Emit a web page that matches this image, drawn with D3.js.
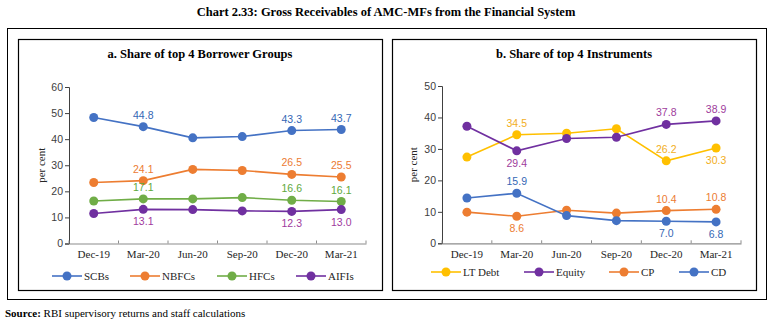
<!DOCTYPE html>
<html>
<head>
<meta charset="utf-8">
<script src="https://cdn.jsdelivr.net/npm/d3@7"></script>
<style>
  body { margin: 0; background: #fff; }
  svg { display: block; }
  .serif { font-family: "Liberation Serif", serif; }
  .sans { font-family: "Liberation Sans", sans-serif; }
</style>
</head>
<body>
<div id="chart"></div>
<script>
// Quarters on the x axis
var quarters = ["Dec-19", "Mar-20", "Jun-20", "Sep-20", "Dec-20", "Mar-21"];

// Panel a: borrower groups (per cent)
var scbs  = [48.3, 44.8, 40.5, 41.0, 43.3, 43.7];
var nbfcs = [23.4, 24.1, 28.4, 28.0, 26.5, 25.5];
var hfcs  = [16.3, 17.1, 17.1, 17.6, 16.6, 16.1];
var aifis = [11.5, 13.1, 13.0, 12.5, 12.3, 13.0];

// Panel b: instruments (per cent)
var ltDebt = [27.4, 34.5, 35.0, 36.4, 26.2, 30.3];
var equity = [37.2, 29.4, 33.3, 33.7, 37.8, 38.9];
var cp     = [9.9, 8.6, 10.5, 9.6, 10.4, 10.8];
var cd     = [14.4, 15.9, 8.8, 7.2, 7.0, 6.8];

var ticksA = [0, 10, 20, 30, 40, 50, 60];
var ticksB = [0, 10, 20, 30, 40, 50];

var svgWidth = 772;
var svgHeight = 326;

var svg = d3.select("#chart")
    .append("svg")
    .attr("width", svgWidth)
    .attr("height", svgHeight);

// Main heading
svg.append("text")
    .attr("class", "serif")
    .attr("x", 386)
    .attr("y", 16)
    .attr("text-anchor", "middle")
    .style("font-size", "12.5px")
    .style("font-weight", "bold")
    .text("Chart 2.33: Gross Receivables of AMC-MFs from the Financial System");

// Outer frame
svg.append("rect")
    .attr("x", 7.5).attr("y", 28.5)
    .attr("width", 759).attr("height", 271)
    .attr("fill", "none").attr("stroke", "#000").attr("stroke-width", 1);

function drawPanel(p) {
    var g = svg.append("g");

    g.append("rect")
        .attr("x", p.box[0] + 0.5).attr("y", p.box[1] + 0.5)
        .attr("width", p.box[2]).attr("height", p.box[3])
        .attr("fill", "none").attr("stroke", "#000").attr("stroke-width", 1.2);

    g.append("text")
        .attr("class", "serif")
        .attr("x", p.box[0] + p.box[2] / 2)
        .attr("y", p.titleY)
        .attr("text-anchor", "middle")
        .style("font-size", "12.5px")
        .style("font-weight", "bold")
        .text(p.title);

    var x = d3.scaleBand()
        .domain(quarters)
        .range([p.x0, p.x1]);

    var y = d3.scaleLinear()
        .domain([0, p.yMax])
        .range([p.yBottom, p.yTop]);

    // y axis
    var yAxis = g.append("g")
        .attr("transform", `translate(${p.x0}, 0)`)
        .call(d3.axisLeft(y).tickValues(p.ticks).tickSize(4).tickPadding(2));
    yAxis.select(".domain").attr("stroke", "#404040");
    yAxis.selectAll(".tick line").attr("stroke", "#404040");
    yAxis.selectAll("text")
        .attr("class", "sans")
        .style("font-size", "10.5px")
        .attr("fill", "#404040");

    // x axis: labels centred in each band, ticks on the band edges
    var xAxis = g.append("g")
        .attr("transform", `translate(0, ${p.yBottom})`)
        .call(d3.axisBottom(x).tickSize(0).tickPadding(7));
    xAxis.select(".domain").attr("stroke", "#8c8c8c").attr("stroke-width", 1.2);
    xAxis.selectAll("text")
        .attr("class", "serif")
        .style("font-size", "11px")
        .attr("fill", "#262626");

    var edges = d3.range(quarters.length + 1).map(i => p.x0 + i * x.step());
    g.append("g")
        .selectAll("line")
        .data(edges)
        .join("line")
        .attr("x1", d => d).attr("x2", d => d)
        .attr("y1", p.yBottom).attr("y2", p.yBottom - 3)
        .attr("stroke", "#8c8c8c");

    // y axis title
    g.append("text")
        .attr("class", "serif")
        .attr("transform", `translate(${p.yLabelX}, ${(p.yTop + p.yBottom) / 2}) rotate(-90)`)
        .attr("text-anchor", "middle")
        .style("font-size", "11px")
        .attr("fill", "#262626")
        .text("per cent");

    var cx = (d, i) => x(quarters[i]) + x.bandwidth() / 2;

    var line = d3.line()
        .x((d, i) => cx(d, i))
        .y(d => y(d));

    p.series.forEach(s => {
        g.append("path")
            .datum(s.values)
            .attr("d", line)
            .attr("fill", "none")
            .attr("stroke", s.color)
            .attr("stroke-width", 1.6);

        g.append("g")
            .selectAll("circle")
            .data(s.values)
            .join("circle")
            .attr("cx", (d, i) => cx(d, i))
            .attr("cy", d => y(d))
            .attr("r", 4.5)
            .attr("fill", s.color);
    });

    // value labels
    p.series.forEach(s => {
        g.append("g")
            .selectAll("text")
            .data(s.labels)
            .join("text")
            .attr("class", "sans")
            .attr("x", d => cx(s.values[d[0]], d[0]))
            .attr("y", d => y(s.values[d[0]]) + (d[1] === "up" ? -8 : 16))
            .attr("text-anchor", "middle")
            .style("font-size", "10.5px")
            .attr("fill", s.labelColor)
            .text(d => s.values[d[0]].toFixed(1));
    });

    // legend
    var legend = g.append("g")
        .selectAll("g")
        .data(p.series)
        .join("g")
        .attr("transform", (s, i) => `translate(${p.legendX[i]}, ${p.legendY})`);
    legend.append("line")
        .attr("x1", -15).attr("x2", 15)
        .attr("stroke", s => s.color)
        .attr("stroke-width", 1.6);
    legend.append("circle")
        .attr("r", 4.5)
        .attr("fill", s => s.color);
    legend.append("text")
        .attr("class", "serif")
        .attr("x", 17)
        .attr("y", 4)
        .style("font-size", "11px")
        .attr("fill", "#262626")
        .text(s => s.name);
}

drawPanel({
    box: [18, 39, 364, 251],
    title: "a. Share of top 4 Borrower Groups",
    titleY: 58,
    x0: 69, x1: 366,
    yTop: 87, yBottom: 243.5, yMax: 60,
    ticks: ticksA,
    yLabelX: 45,
    legendY: 276,
    legendX: [67, 145, 232, 311],
    series: [
        { name: "SCBs", values: scbs, color: "#4472c4", labelColor: "#3567b5",
          labels: [[1, "up"], [4, "up"], [5, "up"]] },
        { name: "NBFCs", values: nbfcs, color: "#ed7d31", labelColor: "#ec7b33",
          labels: [[1, "up"], [4, "up"], [5, "up"]] },
        { name: "HFCs", values: hfcs, color: "#70ad47", labelColor: "#5ea83c",
          labels: [[1, "up"], [4, "up"], [5, "up"]] },
        { name: "AIFIs", values: aifis, color: "#7030a0", labelColor: "#a03a9e",
          labels: [[1, "down"], [4, "down"], [5, "down"]] }
    ]
});

drawPanel({
    box: [392, 39, 364, 251],
    title: "b. Share of top 4 Instruments",
    titleY: 58,
    x0: 442, x1: 741,
    yTop: 86, yBottom: 243.3, yMax: 50,
    ticks: ticksB,
    yLabelX: 417,
    legendY: 272,
    legendX: [446, 539, 624, 694],
    series: [
        { name: "LT Debt", values: ltDebt, color: "#ffc000", labelColor: "#f2ae1c",
          labels: [[1, "up"], [4, "up"], [5, "down"]] },
        { name: "Equity", values: equity, color: "#7030a0", labelColor: "#9e3c9c",
          labels: [[1, "down"], [4, "up"], [5, "up"]] },
        { name: "CP", values: cp, color: "#ed7d31", labelColor: "#ec7b33",
          labels: [[1, "down"], [4, "up"], [5, "up"]] },
        { name: "CD", values: cd, color: "#4472c4", labelColor: "#3567b5",
          labels: [[1, "up"], [4, "down"], [5, "down"]] }
    ]
});

// Source note
var source = svg.append("text")
    .attr("class", "serif")
    .attr("x", 5)
    .attr("y", 317)
    .style("font-size", "11px")
    .attr("fill", "#000");
source.append("tspan").style("font-weight", "bold").text("Source:");
source.append("tspan").text(" RBI supervisory returns and staff calculations");
</script>
</body>
</html>
